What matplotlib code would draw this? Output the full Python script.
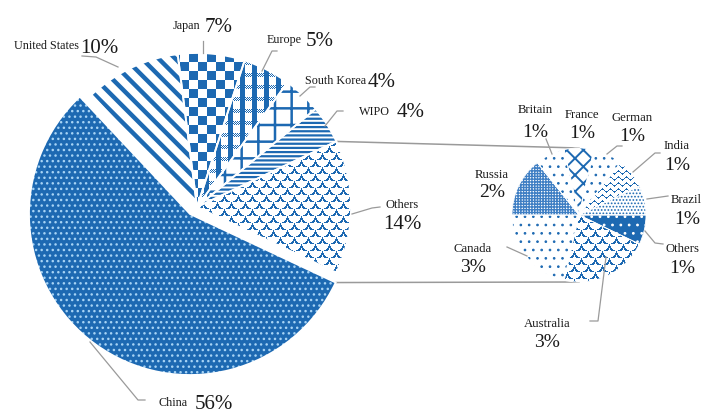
import numpy as np
import matplotlib
matplotlib.use("Agg")
import matplotlib.pyplot as plt
from matplotlib.patches import Wedge
from matplotlib.colors import to_rgb

# ---------------- data ----------------
main_labels = ["Others", "China", "United States", "Japan", "Europe", "South Korea", "WIPO"]
main_values = [14, 56, 10, 7, 5, 4, 4]
sub_labels = ["Others", "Australia", "Canada", "Russia", "Britain", "France", "German", "India", "Brazil"]
sub_values = [1, 3, 3, 2, 1, 1, 1, 1, 1]

W, H = 701, 414
BLUE = "#1d69b2"
LIGHT = "#a6d3f5"
GRAY = "#9a9a9a"
TXT = "#1a1a1a"
SERIF = "Liberation Serif"

fig = plt.figure(figsize=(W / 100, H / 100), dpi=100)
ax = fig.add_axes([0, 0, 1, 1])

def Y(py):
    return H - py

# main pie
mw, _ = ax.pie(main_values, center=(197, Y(208)), radius=154,
               startangle=main_values[0] / sum(main_values) * 180,
               counterclock=False, wedgeprops=dict(linewidth=0))
# China slice drawn slightly larger / offset as in the reference
mw[1].set_center((190, Y(215)))
mw[1].set_radius(161)

# secondary pie
sw, _ = ax.pie(sub_values, center=(579, Y(216)), radius=67, startangle=0,
               counterclock=False, wedgeprops=dict(linewidth=0))

def hatch(w, fc, hc, pattern, hlw=1.0):
    w.set_facecolor(fc)
    w.set_edgecolor(hc)
    w.set_linewidth(0)
    w.set_hatch(pattern)
    if hasattr(w, "set_hatch_linewidth"):
        w.set_hatch_linewidth(hlw)

yy, xx = np.mgrid[0:H, 0:W]

def texture(w, mask, color, fc="white"):
    w.set_facecolor(fc)
    rgba = np.zeros((H, W, 4))
    rgba[..., :3] = to_rgb(color)
    rgba[..., 3] = mask.astype(float)
    im = ax.imshow(rgba, extent=(0, W, 0, H), origin="lower", interpolation="nearest", zorder=1.5)
    im.set_clip_path(w)

checker = ((xx // 9 + yy // 9) % 2 == 0)
europe = ((xx % 12) < 5) | (((yy % 12) < 4) & ((xx + yy) % 2 == 0))
R = 7
k = np.ceil(yy / R)
off = (k % 2) * R
cx = np.round((xx - off) / (2 * R)) * 2 * R + off
cy = k * R
scales = np.abs(np.hypot(xx - cx, yy - cy) - R) < 0.9
wv = (yy - 1.5 * np.sin(2 * np.pi * xx / 8)) % 6
waves = np.abs(wv - 3) > 2.2

# main styles
texture(mw[0], scales, BLUE)                  # Others
hatch(mw[1], BLUE, LIGHT, "...", 1.0)         # China
hatch(mw[2], "white", BLUE, "\\\\", 3.2)      # United States
texture(mw[3], checker, BLUE)                 # Japan
texture(mw[4], europe, BLUE)                  # Europe
hatch(mw[5], "white", BLUE, "+", 1.8)         # South Korea
hatch(mw[6], "white", BLUE, "----", 1.6)      # WIPO

# secondary styles
hatch(sw[0], BLUE, "white", "..", 0.8)        # Others
texture(sw[1], scales, BLUE)                  # Australia
hatch(sw[2], "white", BLUE, "..", 0.7)        # Canada
hatch(sw[3], "white", "#3f7fc4", "++++++", 1.0)  # Russia
hatch(sw[4], "white", BLUE, "..", 0.7)        # Britain
hatch(sw[5], "white", BLUE, "xx", 1.4)        # France
hatch(sw[6], "white", BLUE, "..", 0.7)        # German
texture(sw[7], waves, BLUE)                   # India
hatch(sw[8], "white", BLUE, ".....", 0.8)     # Brazil

# white separators
for w in mw:
    ax.add_patch(Wedge(w.center, w.r, w.theta1, w.theta2, facecolor="none",
                       edgecolor="white", linewidth=1.3, zorder=3))
for w in sw:
    ax.add_patch(Wedge(w.center, w.r, w.theta1, w.theta2, facecolor="none",
                       edgecolor="white", linewidth=0.6, zorder=3))

# connector lines between pies
ow = mw[0]
cw = mw[1]
scx, scy = sw[0].center
sr = sw[0].r
ux = ow.center[0] + ow.r * np.cos(np.radians(ow.theta2))
uy = ow.center[1] + ow.r * np.sin(np.radians(ow.theta2))
lx = cw.center[0] + cw.r * np.cos(np.radians(cw.theta2))
ly = cw.center[1] + cw.r * np.sin(np.radians(cw.theta2))
ax.plot([ux, scx], [uy, scy + sr], color=GRAY, lw=1.1, zorder=0.5)
ax.plot([lx, scx], [ly, scy - sr], color=GRAY, lw=1.1, zorder=0.5)

def pct(v):
    return f"{v}%"

# main labels: (name right x, name baseline, pct left x, pct baseline)
main_pos = {
    "United States": (79, 49, 80, 53),
    "Japan": (200, 29, 205, 32),
    "Europe": (302, 43, 306, 46),
    "South Korea": (366, 84, 368, 87),
    "WIPO": (390, 115, 397, 117),
    "China": (188, 406, 195, 409),
}
for name, v in zip(main_labels, main_values):
    if name in main_pos:
        nx, nb, px, pb = main_pos[name]
        ax.text(nx, Y(nb), name, ha="right", va="baseline", fontsize=8.7, family=SERIF, color=TXT)
        ax.text(px, Y(pb), pct(v), ha="left", va="baseline", fontsize=15, family=SERIF, color=TXT)
    else:
        ax.text(402, Y(208), name, ha="center", va="baseline", fontsize=9, family=SERIF, color=TXT)
        ax.text(402, Y(229), pct(v), ha="center", va="baseline", fontsize=15, family=SERIF, color=TXT)

# secondary labels: (x, name baseline, pct baseline, ha)
sub_pos = {
    "Britain": (535, 113, 137, "center"),
    "France": (582, 118, 138, "center"),
    "German": (632, 121, 141, "center"),
    "India": (677, 149, 170, "center"),
    "Brazil": (671, 203, 224, "left"),
    "Others": (666, 252, 273, "left"),
    "Russia": (492, 178, 197, "center"),
    "Canada": (473, 252, 272, "center"),
    "Australia": (547, 327, 347, "center"),
}
for name, v in zip(sub_labels, sub_values):
    x, nb, pb, ha = sub_pos[name]
    ax.text(x, Y(nb), name, ha=ha, va="baseline", fontsize=9.2, family=SERIF, color=TXT)
    px = x + (3 if ha == "left" else 0)
    ax.text(px, Y(pb), pct(v), ha=ha, va="baseline", fontsize=14, family=SERIF, color=TXT)

# leader lines (pixel coordinates)
leaders = [
    [(82, 57), (96, 58), (118, 68)],
    [(203, 42), (203, 54)],
    [(277, 52), (272, 52), (262, 72)],
    [(315, 88), (310, 88), (300, 97)],
    [(343, 112), (337, 112), (325, 127)],
    [(380, 208), (372, 209), (352, 215)],
    [(145, 401), (138, 401), (90, 343)],
    [(546, 140), (552, 155)],
    [(622, 147), (617, 147), (607, 155)],
    [(660, 154), (655, 154), (633, 173)],
    [(668, 197), (647, 200)],
    [(663, 245), (655, 244), (645, 232)],
    [(507, 248), (527, 257)],
    [(590, 322), (598, 322), (606, 258)],
]
for pts in leaders:
    xs = [p[0] for p in pts]
    ys = [Y(p[1]) for p in pts]
    ax.plot(xs, ys, color=GRAY, lw=0.9, zorder=4)

ax.set_xlim(0, W)
ax.set_ylim(0, H)
ax.set_aspect("equal")
ax.axis("off")
fig.savefig("out.png", dpi=100)
